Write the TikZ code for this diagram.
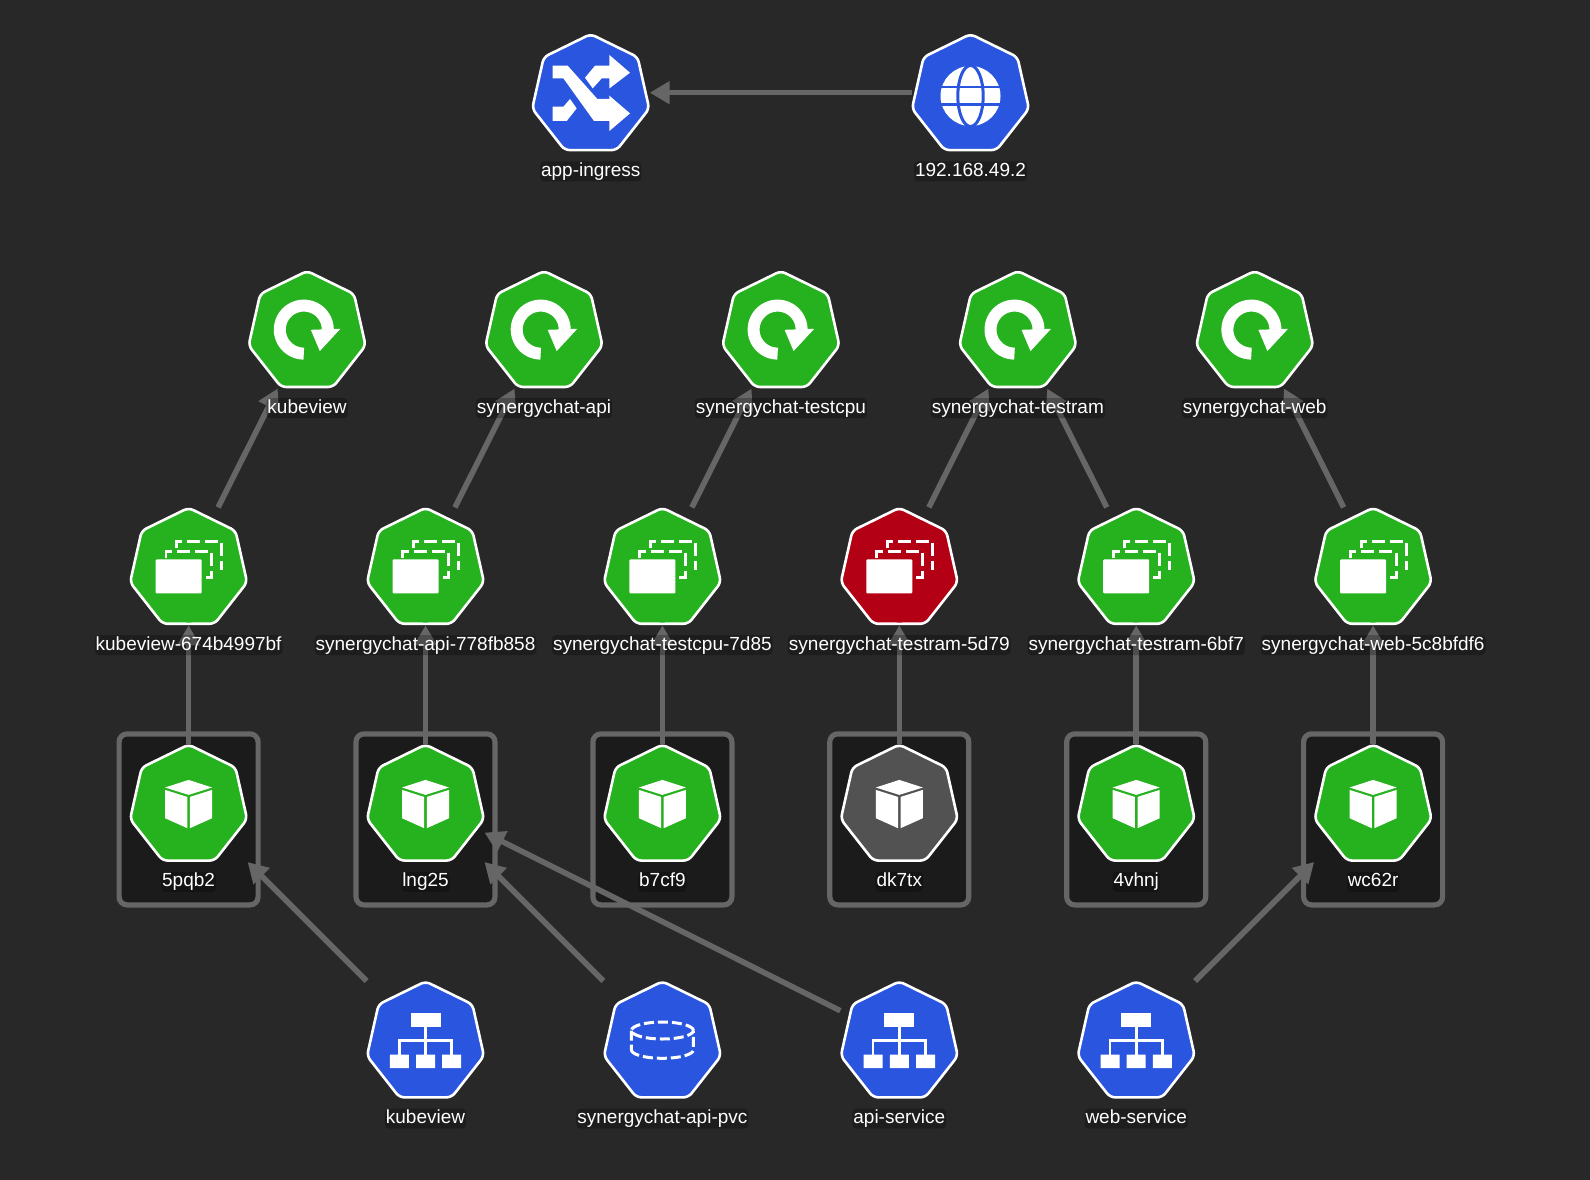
\documentclass[tikz,border=0pt]{standalone}
\usepackage{fontspec}
\setmainfont{Liberation Sans}
\usetikzlibrary{arrows.meta,positioning}
\definecolor{kubebg}{HTML}{282828}
\definecolor{boxbg}{HTML}{1B1B1B}
\definecolor{edgegray}{HTML}{666666}
\definecolor{kubeblue}{HTML}{2A55DE}
\definecolor{kubegreen}{HTML}{26B11E}
\definecolor{kubered}{HTML}{B30014}
\definecolor{kubegray}{HTML}{525252}
\pgfdeclarelayer{boxes}
\pgfdeclarelayer{edges}
\pgfsetlayers{boxes,edges,main}
\tikzset{
	kube/.style={rectangle,minimum size=118pt,inner sep=0pt,outer sep=0pt},
	lab/.style={font=\fontsize{19}{19}\selectfont,text=white,text height=14pt,text depth=4pt,
		inner sep=1pt,rounded corners=4pt,fill=black,fill opacity=.25,text opacity=1},
	podbox/.style={rectangle,draw=edgegray,fill=boxbg,line width=5.2pt,rounded corners=8pt,
		minimum width=139pt,minimum height=171pt},
	edge/.style={draw=edgegray,line width=5.6pt,-{Triangle[length=20pt,width=22pt]}},
	pics/hept/.style={code={
		\draw[white,line width=2.6pt,fill=#1,rounded corners=5pt,line join=round]
		(0,57.4) \foreach \k in {0,...,6} {-- ({60*cos(90+180/7+\k*360/7)},{2.4+61*sin(90+180/7+\k*360/7)})} -- cycle;
	}},
	pics/ingressicon/.style={code={
		\fill[white] (-38,-27) -- (-23,-27) -- (6.7,6.3) -- (18.7,6.3) -- (18.7,3) -- (39.3,20.7) -- (18.7,38.3)
			-- (18.7,28.3) -- (3.3,28.3) -- (-27.3,-14.3) -- (-38,-14.3) -- cycle;
		\fill[white] (-5.7,-15) -- (4.3,-27) -- (18.7,-27) -- (18.7,-37.7) -- (39.3,-20) -- (18.7,-4.3)
			-- (18.7,-14.3) -- (11,-14.3) -- (2,-4.3) -- cycle;
		\fill[white] (-38,14) -- (-27.3,14) -- (-20.7,6.3) -- (-14,15.7) -- (-24,28.3) -- (-38,28.3) -- cycle;
	}},
	pics/globeicon/.style={code={
		\fill[white] (0,3.3) circle[radius=30pt];
		\draw[kubeblue,line width=3pt] (0,3.3) ellipse[x radius=12.7pt,y radius=30.5pt];
		\draw[kubeblue,line width=2.8pt] (-31,-5.7) -- (31,-5.7) (-31,12) -- (31,12);
	}},
	pics/deployicon/.style={code={
		\draw[white,line width=12pt] plot[domain=90:360,samples=45] ({-3.3+24*cos(\x)},{24*sin(\x)});
		\fill[white] (3.7,0.2) -- (33.3,-0.8) -- (12.7,21.5) -- cycle;
	}},
	pics/rsicon/.style={code={
		\fill[white,rounded corners=1pt] (-33,-7) rectangle (13,27);
		\draw[white,line width=2.8pt,dash pattern=on 13pt off 5pt] (-22.7,-8) -- (-22.7,-15) -- (23,-15) -- (23,11) -- (17,11);
		\draw[white,line width=2.8pt,dash pattern=on 13pt off 5pt] (-12,-18) -- (-12,-25.3) -- (33,-25.3) -- (33,4);
	}},
	pics/podicon/.style={code={
		\fill[white] (0,-23.3) -- (23.5,-15.7) -- (0,-8.3) -- (-23.5,-15.7) -- cycle;
		\fill[white] (-23.5,-13.3) -- (-1.3,-6.3) -- (-1.3,25) -- (-23.5,15) -- cycle;
		\fill[white] (23.5,-13.3) -- (1.3,-6.3) -- (1.3,25) -- (23.5,15) -- cycle;
	}},
	pics/svcicon/.style={code={
		\fill[white] (-15,-27.2) rectangle (15,-13.5);
		\draw[white,line width=2.7pt] (0,-13.5) -- (0,14.5) (-26.3,14.5) -- (-26.3,0.5) -- (26.3,0.5) -- (26.3,14.5);
		\fill[white] (-35.7,14.5) rectangle (-16.7,28) (-9.5,14.5) rectangle (9.5,28) (16.7,14.5) rectangle (35.7,28);
	}},
	pics/pvcicon/.style={code={
		\draw[white,line width=3pt,dash pattern=on 10pt off 4pt] (0,-9.5) ellipse[x radius=31pt,y radius=8.5pt];
		\draw[white,line width=3pt,dash pattern=on 10pt off 4pt] (-31,-9.5) -- (-31,9.8)
			plot[domain=180:0,samples=30] ({31*cos(\x)},{9.8+8.5*sin(\x)}) -- (31,-9.5);
	}},
}
\begin{document}
\begin{tikzpicture}[x=1pt,y=-1pt]
	\begin{pgfonlayer}{boxes}
		\fill[kubebg] (0,0) rectangle (1590,1180);
	\end{pgfonlayer}
	% ingress row
	\node[kube] (ing) at (590.7,92.7) {};
	\pic at (ing) {hept=kubeblue};
	\pic at (ing) {ingressicon};
	\node[lab,below=9.4pt of ing] (inglab) {app-ingress};
	\node[kube] (ip) at (970.5,92.7) {};
	\pic at (ip) {hept=kubeblue};
	\pic at (ip) {globeicon};
	\node[lab,below=9.4pt of ip] (iplab) {192.168.49.2};
	% deployments
	\foreach \n/\x/\t in {dkv/307.1/kubeview,dapi/544/synergychat-api,dcpu/780.9/synergychat-testcpu,
		dram/1017.8/synergychat-testram,dweb/1254.7/synergychat-web} {
		\node[kube] (\n) at (\x,329.6) {};
		\pic at (\n) {hept=kubegreen};
		\pic at (\n) {deployicon};
		\node[lab,below=9.4pt of \n] (\n lab) {\t};
	}
	% replicasets
	\foreach \n/\x/\t/\c in {rkv/188.6/kubeview-674b4997bf/kubegreen,rapi/425.5/synergychat-api-778fb858/kubegreen,
		rcpu/662.4/synergychat-testcpu-7d85/kubegreen,rramA/899.3/synergychat-testram-5d79/kubered,
		rramB/1136.2/synergychat-testram-6bf7/kubegreen,rweb/1373.1/synergychat-web-5c8bfdf6/kubegreen} {
		\node[kube] (\n) at (\x,566.4) {};
		\pic at (\n) {hept=\c};
		\pic at (\n) {rsicon};
		\node[lab,below=9.4pt of \n] (\n lab) {\t};
	}
	% pods
	\foreach \n/\x/\t/\c in {pkv/188.6/5pqb2/kubegreen,papi/425.5/lng25/kubegreen,pcpu/662.4/b7cf9/kubegreen,
		pramA/899.3/dk7tx/kubegray,pramB/1136.2/4vhnj/kubegreen,pweb/1373.1/wc62r/kubegreen} {
		\node[kube] (\n) at (\x,803.2) {};
		\pic at (\n) {hept=\c};
		\pic at (\n) {podicon};
		\node[lab,below=9.4pt of \n] (\n lab) {\t};
		\begin{pgfonlayer}{boxes}
			\node[podbox] (\n box) at (\x,819.4) {};
		\end{pgfonlayer}
	}
	% services
	\foreach \n/\x/\t/\i in {skv/425.5/kubeview/svcicon,pvc/662.4/synergychat-api-pvc/pvcicon,
		sapi/899.3/api-service/svcicon,sweb/1136.2/web-service/svcicon} {
		\node[kube] (\n) at (\x,1040) {};
		\pic at (\n) {hept=kubeblue};
		\pic at (\n) {\i};
		\node[lab,below=9.4pt of \n] (\n lab) {\t};
	}
	\begin{pgfonlayer}{edges}
		\foreach \a/\b in {ip/ing,rkv/dkv,rapi/dapi,rcpu/dcpu,rramA/dram,rramB/dram,rweb/dweb,
			pkv/rkv,papi/rapi,pcpu/rcpu,pramA/rramA,pramB/rramB,pweb/rweb,
			skv/pkv,pvc/papi,sapi/papi,sweb/pweb}
			\draw[edge] (\a) -- (\b);
	\end{pgfonlayer}
\end{tikzpicture}
\end{document}
